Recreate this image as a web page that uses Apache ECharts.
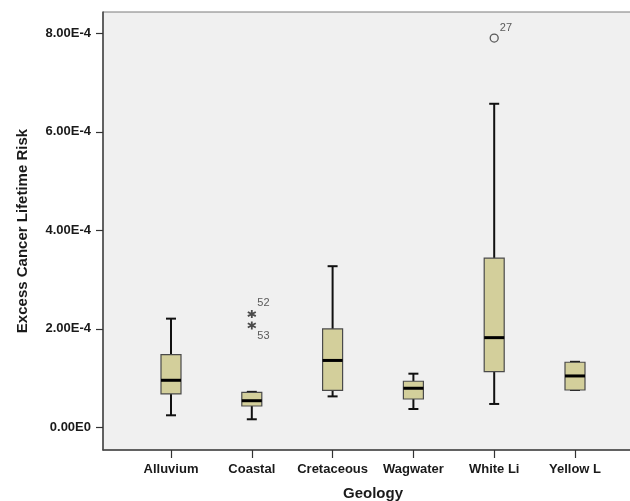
<!DOCTYPE html>
<html><head><meta charset="utf-8">
<script src="https://cdn.jsdelivr.net/npm/echarts@6/dist/echarts.min.js"></script>
<style>html,body{margin:0;padding:0;background:#fff}#c{width:630px;height:501px}</style>
</head><body><div id="c"></div>
<script>
var categories = ['Alluvium', 'Coastal', 'Cretaceous', 'Wagwater', 'White Li', 'Yellow L'];
// [min, Q1, median, Q3, max]
var boxMin    = [0.0000244, 0.0000163, 0.0000628, 0.0000372, 0.0000474, 0.0000758];
var boxQ1     = [0.0000677, 0.0000433, 0.0000752, 0.0000575, 0.0001130, 0.0000758];
var boxMedian = [0.0000955, 0.0000540, 0.0001358, 0.0000793, 0.0001821, 0.0001043];
var boxQ3     = [0.0001476, 0.0000711, 0.0001998, 0.0000935, 0.0003435, 0.0001321];
var boxMax    = [0.0002207, 0.0000720, 0.0003272, 0.0001089, 0.0006571, 0.0001330];
var extremeCat = ['Coastal', 'Coastal'];
var extremeVal = [0.0002300, 0.0002070];
var extremeId  = ['52', '53'];
var outlierCat = ['White Li'];
var outlierVal = [0.0007906];
var outlierId  = ['27'];
var yTickValues = [0, 0.0002, 0.0004, 0.0006, 0.0008];
var yTickLabels = ['0.00E0', '2.00E-4', '4.00E-4', '6.00E-4', '8.00E-4'];
var yMin = -0.0000461, yMax = 0.0008435;

var boxData = categories.map(function (c, i) {
  return [i, boxMin[i], boxQ1[i], boxMedian[i], boxQ3[i], boxMax[i]];
});
var extremeData = extremeVal.map(function (v, i) { return [categories.indexOf(extremeCat[i]), v, extremeId[i]]; });
var outlierData = outlierVal.map(function (v, i) { return [categories.indexOf(outlierCat[i]), v, outlierId[i]]; });

var FONT = '"Liberation Sans", Arial, sans-serif';
var chart = echarts.init(document.getElementById('c'));
chart.setOption({
  backgroundColor: '#ffffff',
  animation: false,
  grid: [
    { left: 103, top: 12, right: -4, bottom: 51, containLabel: false, outerBoundsMode: 'none',
      show: true, backgroundColor: '#f0f0f0', borderColor: '#7a7a7a', borderWidth: 1 },
    { left: 130.6, top: 12, right: 14.6, bottom: 51, containLabel: false, outerBoundsMode: 'none' }
  ],
  xAxis: [
    { gridIndex: 0, type: 'value', min: 0, max: 1, splitLine: { show: false },
      axisLine: { show: true, onZero: false, lineStyle: { color: '#444', width: 1.5 } },
      axisTick: { show: false }, axisLabel: { show: false } },
    { gridIndex: 1, type: 'category', data: categories, boundaryGap: true,
      axisLine: { show: false, onZero: false },
      axisTick: { show: true, alignWithLabel: true, interval: 0, length: 8, lineStyle: { color: '#333', width: 1.2 } },
      axisLabel: { interval: 0, margin: 13, fontFamily: FONT, fontWeight: 'bold', fontSize: 13, color: '#1a1a1a' },
      name: 'Geology', nameLocation: 'middle', nameGap: 36,
      nameTextStyle: { fontFamily: FONT, fontWeight: 'bold', fontSize: 15, color: '#1a1a1a' } }
  ],
  yAxis: [
    { gridIndex: 0, type: 'value', min: yMin, max: yMax,
      splitLine: { show: false },
      axisLine: { show: true, onZero: false, lineStyle: { color: '#444', width: 1.5 } },
      axisTick: { show: true, length: 7, customValues: yTickValues, lineStyle: { color: '#333', width: 1.2 } },
      axisLabel: { customValues: yTickValues, margin: 12, fontFamily: FONT, fontWeight: 'bold', fontSize: 13, color: '#1a1a1a',
        formatter: function (v) { var k = yTickValues.indexOf(v); return k >= 0 ? yTickLabels[k] : ''; } },
      name: 'Excess Cancer Lifetime Risk', nameLocation: 'middle', nameGap: 73,
      nameTextStyle: { fontFamily: FONT, fontWeight: 'bold', fontSize: 15, color: '#1a1a1a' } },
    { gridIndex: 1, type: 'value', min: yMin, max: yMax, show: false, splitLine: { show: false } }
  ],
  series: [
    { type: 'custom', xAxisIndex: 1, yAxisIndex: 1, data: boxData,
      encode: { x: 0, y: [1, 2, 3, 4, 5] },
      renderItem: function (params, api) {
        var x = api.value(0);
        var pMin = api.coord([x, api.value(1)]);
        var pQ1 = api.coord([x, api.value(2)]);
        var pMed = api.coord([x, api.value(3)]);
        var pQ3 = api.coord([x, api.value(4)]);
        var pMax = api.coord([x, api.value(5)]);
        var cx = pMin[0], hw = 10, cw = 5;
        var line = { stroke: '#111', lineWidth: 2 };
        return { type: 'group', children: [
          { type: 'line', shape: { x1: cx, y1: pMax[1], x2: cx, y2: pQ3[1] }, style: line },
          { type: 'line', shape: { x1: cx, y1: pQ1[1], x2: cx, y2: pMin[1] }, style: line },
          { type: 'line', shape: { x1: cx - cw, y1: pMax[1], x2: cx + cw, y2: pMax[1] }, style: line },
          { type: 'line', shape: { x1: cx - cw, y1: pMin[1], x2: cx + cw, y2: pMin[1] }, style: line },
          { type: 'rect', shape: { x: cx - hw, y: pQ3[1], width: 2 * hw, height: pQ1[1] - pQ3[1] },
            style: { fill: '#d3cf9b', stroke: '#4a4a4a', lineWidth: 1.2 } },
          { type: 'line', shape: { x1: cx - hw, y1: pMed[1], x2: cx + hw, y2: pMed[1] }, style: { stroke: '#000', lineWidth: 3 } }
        ] };
      }
    },
    { type: 'scatter', xAxisIndex: 1, yAxisIndex: 1, data: extremeData,
      symbol: 'path://M0,-5L0,5M-4.5,-2.6L4.5,2.6M-4.5,2.6L4.5,-2.6', symbolSize: 8,
      itemStyle: { color: 'none', borderColor: '#222', borderWidth: 1.8 },
      label: { show: true, fontFamily: FONT, fontSize: 11, color: '#333',
        formatter: function (p) { return p.data[2]; },
        position: 'right', offset: [0, 0] },
      labelLayout: function (p) {
        return p.dataIndex === 0 ? { dx: -6, dy: -11 } : { dx: -6, dy: 11 };
      }
    },
    { type: 'scatter', xAxisIndex: 1, yAxisIndex: 1, data: outlierData,
      symbol: 'circle', symbolSize: 8,
      itemStyle: { color: '#f0f0f0', borderColor: '#333', borderWidth: 1.3 },
      label: { show: true, fontFamily: FONT, fontSize: 11, color: '#333',
        formatter: function (p) { return p.data[2]; },
        position: 'right', offset: [-4, -10] }
    }
  ]
});
</script></body></html>
